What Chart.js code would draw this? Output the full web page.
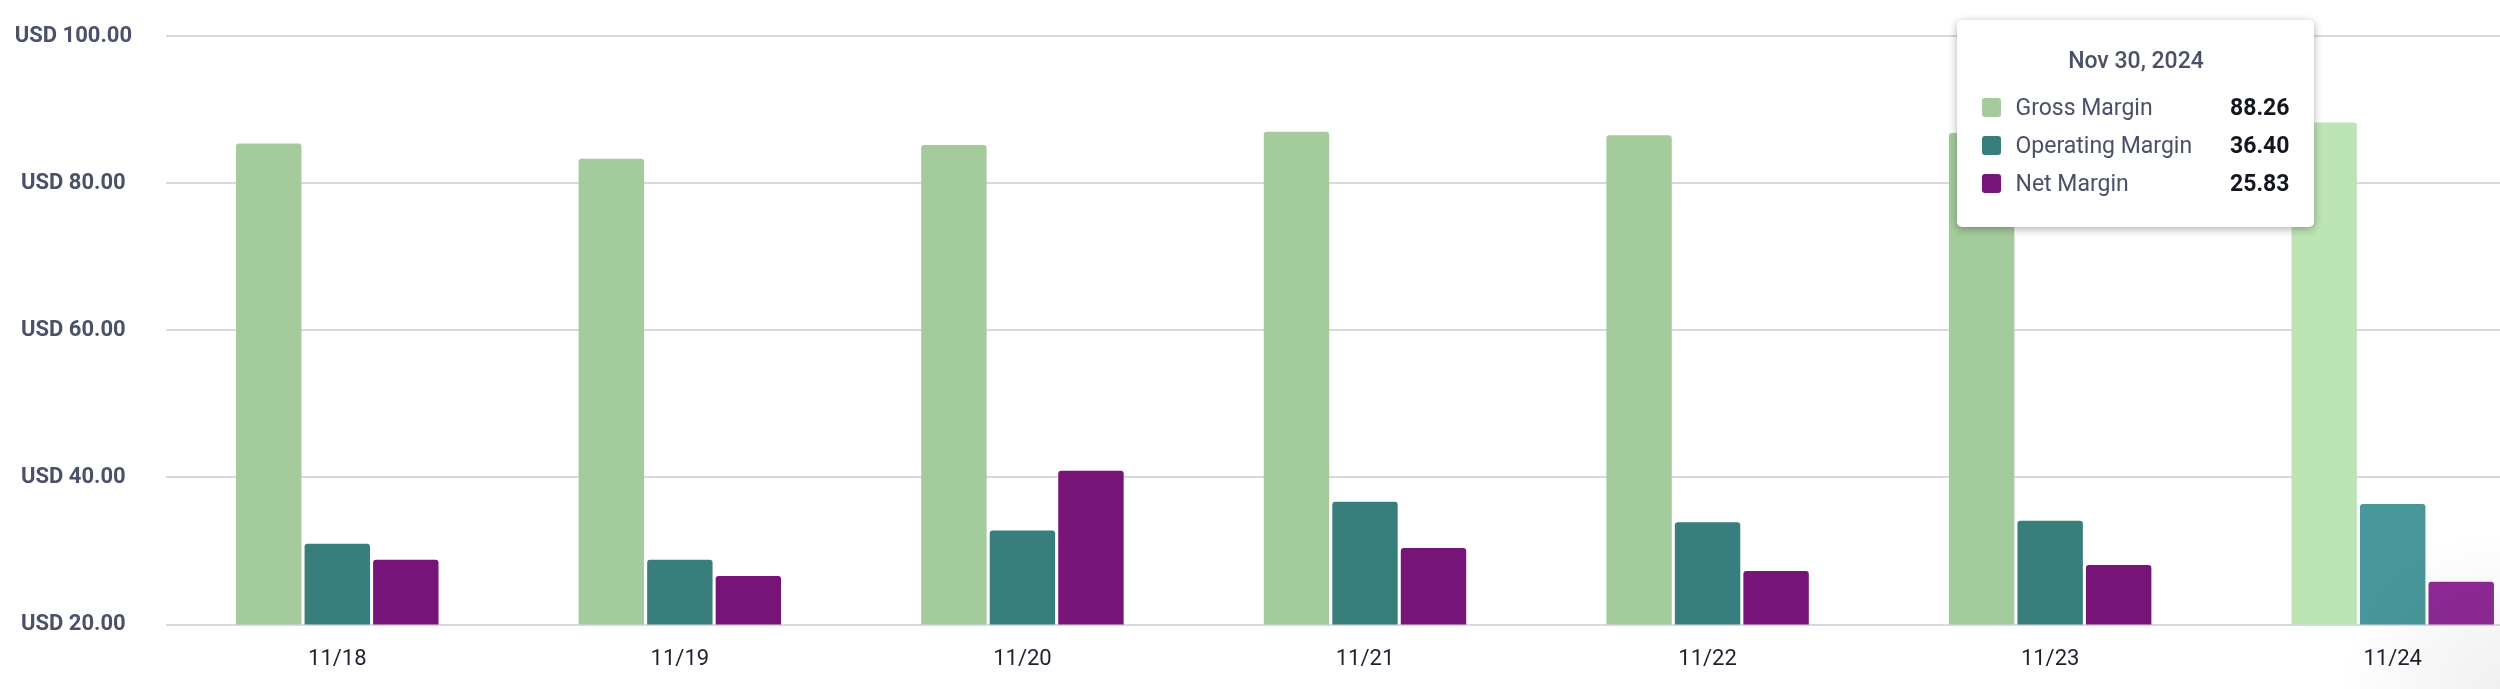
<!DOCTYPE html>
<html>
<head>
<meta charset="utf-8">
<script src="https://cdn.jsdelivr.net/npm/chart.js@4.4.1/dist/chart.umd.min.js"></script>
<style>
    html, body { margin: 0; padding: 0; background: #ffffff; overflow: hidden; }
    #contenedor { position: relative; width: 2564px; height: 689px; }
    #tooltip {
        position: absolute;
        background: #ffffff;
        border-radius: 5px;
        box-shadow: 0 2px 9px rgba(0, 0, 0, 0.32);
        font-family: Roboto, sans-serif;
        box-sizing: border-box;
        padding: 0 25px;
        display: none;
    }
    #tooltip .titulo { text-align: center; color: #4a5068; font-size: 23px; font-weight: 500; height: 40px; line-height: 40px; margin: 21px 0 7px 0; }
    #tooltip .fila { display: flex; align-items: center; height: 38px; }
    #tooltip .cuadro { width: 19px; height: 19px; border-radius: 3px; margin-right: 14px; }
    #tooltip .nombre { color: #4a5068; font-size: 23px; flex: 1; }
    #tooltip .valor { color: #14161f; font-size: 23px; font-weight: 700; margin-left: 30px; }
    #sombra { position: absolute; left: 0; top: 0; width: 2500px; height: 689px; pointer-events: none;
        background: radial-gradient(circle at 100% 100%, rgba(0,0,0,0.06), rgba(0,0,0,0) 160px); }
</style>
</head>
<body>
<div id="contenedor">
    <canvas id="graficaMargenes"></canvas>
    <div id="tooltip"></div>
</div>
<div id="sombra"></div>
<script>
const fechas = ["11/18", "11/19", "11/20", "11/21", "11/22", "11/23", "11/24"];
const margenBruto = [85.4, 83.3, 85.2, 87.0, 86.5, 86.8, 88.26];
const margenOperativo = [31.0, 28.8, 32.8, 36.7, 33.9, 34.1, 36.40];
const margenNeto = [28.8, 26.6, 40.9, 30.4, 27.3, 28.1, 25.83];
const nombresSeries = ["Gross Margin", "Operating Margin", "Net Margin"];
const ticksY = [20, 40, 60, 80, 100];
const indiceActivo = 6;
const fechaActiva = "Nov 30, 2024";

const colores = ["#a4cb9c", "#377e7c", "#761477"];
const coloresHover = ["#bde4b5", "#48979a", "#8e2996"];

function tooltipExterno(context){
    const tooltip = context.tooltip;
    const caja = document.getElementById("tooltip");

    if(tooltip.opacity === 0){
        caja.style.display = "none";
        return;
    }

    let html = `<div class="titulo">${fechaActiva}</div>`;
    tooltip.dataPoints.forEach((punto) => {
        html += `<div class="fila">
            <div class="cuadro" style="background:${colores[punto.datasetIndex]}"></div>
            <div class="nombre">${punto.dataset.label}</div>
            <div class="valor">${punto.raw.toFixed(2)}</div>
        </div>`;
    });

    // la caja queda a la izquierda del grupo, tapando un poco la primera barra
    const barra = tooltip.dataPoints[0].element;
    const bordeBarra = barra.x - barra.width / 2;

    caja.innerHTML = html;
    caja.style.display = "block";
    caja.style.width = "357px";
    caja.style.height = "207px";
    caja.style.left = (bordeBarra + 23 - 357) + "px";
    caja.style.top = "20px";
}

const series = [margenBruto, margenOperativo, margenNeto];

const ctx = document.getElementById("graficaMargenes").getContext("2d");

const grafica = new Chart(ctx, {
    type: "bar",
    data: {
        labels: fechas,
        datasets: series.map((valores, i) => ({
            label: nombresSeries[i],
            data: valores,
            backgroundColor: colores[i],
            hoverBackgroundColor: coloresHover[i],
            borderWidth: 0,
            borderRadius: 3,
            barPercentage: 0.955,
            categoryPercentage: 0.6
        }))
    },
    options: {
        responsive: true,
        maintainAspectRatio: false,
        animation: false,
        layout: {
            padding: { left: 0, top: 36, right: 0, bottom: -6 }
        },
        interaction: { mode: "index", intersect: false },
        plugins: {
            legend: { display: false },
            tooltip: {
                enabled: false,
                mode: "index",
                position: "average",
                external: tooltipExterno
            }
        },
        scales: {
            x: {
                grid: { display: false, drawTicks: false },
                border: { display: false },
                ticks: {
                    color: "#1e2230",
                    padding: 22,
                    font: { family: "Roboto", size: 22 }
                }
            },
            y: {
                min: 20,
                max: 100,
                afterBuildTicks: (eje) => {
                    eje.ticks = ticksY.map(v => ({ value: v }));
                },
                afterFit: (eje) => {
                    eje.width = 166;
                    eje.paddingTop = 0;
                    eje.paddingBottom = 0;
                },
                grid: { color: "#d8d9e2", lineWidth: 2, drawTicks: false },
                border: { display: false },
                ticks: {
                    color: "#4b5168",
                    padding: 34,
                    crossAlign: "center",
                    font: { family: "Roboto", size: 22, weight: "bold" },
                    callback: (valor) => "USD " + Number(valor).toFixed(2)
                }
            }
        }
    }
});

const activos = [0, 1, 2].map(i => ({ datasetIndex: i, index: indiceActivo }));
grafica.setActiveElements(activos);
grafica.tooltip.setActiveElements(activos, { x: 2300, y: 200 });
grafica.update();
</script>
</body>
</html>
